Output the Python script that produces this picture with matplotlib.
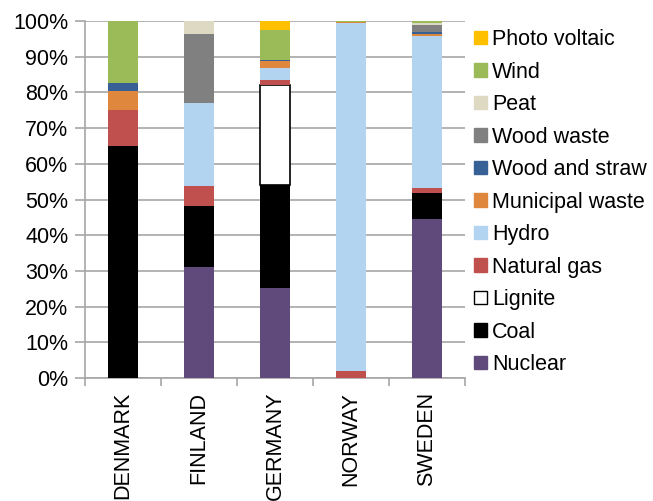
import numpy as np
import matplotlib.pyplot as plt
from matplotlib.patches import Patch
from matplotlib.ticker import PercentFormatter

plt.rcParams["font.family"] = ["Liberation Sans", "DejaVu Sans"]

countries = ["DENMARK", "FINLAND", "GERMANY", "NORWAY", "SWEDEN"]
sources = ["Nuclear", "Coal", "Lignite", "Natural gas", "Hydro", "Municipal waste",
           "Wood and straw", "Wood waste", "Peat", "Wind", "Photo voltaic"]

# share of production in %, per source, in country order
nuclear = [0.0, 31.0, 25.1, 0.0, 44.5]
coal = [65.0, 17.2, 29.1, 0.0, 7.4]
lignite = [0.0, 0.0, 27.9, 0.0, 0.0]
natural_gas = [10.1, 5.6, 1.4, 2.1, 1.3]
hydro = [0.0, 23.2, 3.4, 97.2, 42.6]
municipal_waste = [5.3, 0.0, 1.9, 0.3, 0.6]
wood_and_straw = [2.1, 0.0, 0.4, 0.0, 0.5]
wood_waste = [0.0, 19.3, 0.0, 0.0, 2.1]
peat = [0.0, 3.7, 0.0, 0.0, 0.3]
wind = [17.5, 0.0, 8.3, 0.4, 0.7]
photo_voltaic = [0.0, 0.0, 2.5, 0.0, 0.0]

series = [nuclear, coal, lignite, natural_gas, hydro, municipal_waste,
          wood_and_straw, wood_waste, peat, wind, photo_voltaic]
colors = ["#604A7B", "#000000", "#FFFFFF", "#C0504D", "#B3D4F0", "#E0873E",
          "#376096", "#808080", "#DDD9C3", "#9BBB59", "#FFC000"]

fs = 15.5

fig = plt.figure(figsize=(6.53, 5.01), dpi=100)
ax = fig.add_axes([85 / 653, 123 / 501, 380 / 653, 357 / 501])

x = np.arange(len(countries))
bottom = np.zeros(len(countries))
for name, vals, col in zip(sources, series, colors):
    vals = np.array(vals)
    if name == "Lignite":
        ax.bar(x, vals, 0.4, bottom=bottom, color=col, edgecolor="black", linewidth=1.2, zorder=3)
    else:
        ax.bar(x, vals, 0.4, bottom=bottom, color=col, edgecolor="none", zorder=3)
    bottom += vals

ax.set_xlim(-0.5, len(countries) - 0.5)
ax.set_ylim(0, 100)
ax.set_yticks(np.arange(0, 101, 10))
ax.yaxis.set_major_formatter(PercentFormatter(decimals=0))
ax.yaxis.grid(True, color="#A6A6A6", linewidth=1.2, zorder=0)

ax.set_xticks(x)
ax.set_xticklabels(countries, rotation=90, va="top")
ax.set_xticks(np.arange(-0.5, len(countries)), minor=True)
ax.tick_params(axis="x", which="major", length=0, pad=10, labelsize=fs)
ax.tick_params(axis="x", which="minor", length=6, color="#A6A6A6", width=1.2)
ax.tick_params(axis="y", length=7, color="#A6A6A6", width=1.2, labelsize=fs, pad=5)

for side in ["top", "right"]:
    ax.spines[side].set_visible(False)
for side in ["left", "bottom"]:
    ax.spines[side].set_color("#A6A6A6")
    ax.spines[side].set_linewidth(1.2)

handles = []
for name, col in zip(sources, colors):
    ec = "black" if name == "Lignite" else col
    handles.append(Patch(facecolor=col, edgecolor=ec, linewidth=1.0, label=name))
ax.legend(handles[::-1], sources[::-1], loc="upper left", bbox_to_anchor=(474 / 653, 1 - 29 / 501),
          bbox_transform=fig.transFigure, frameon=False, fontsize=fs,
          handlelength=0.6, handleheight=0.6, handletextpad=0.25, labelspacing=0.535,
          borderaxespad=0.0, borderpad=0.0)

plt.savefig("out.png", dpi=100)
